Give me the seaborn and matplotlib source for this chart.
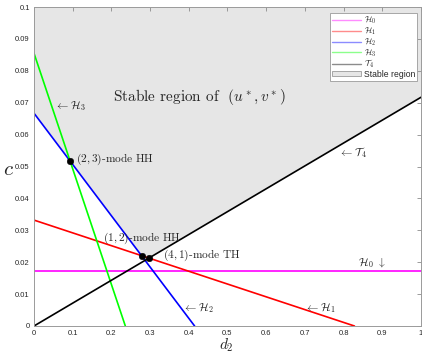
import numpy as np
import pandas as pd
import matplotlib
matplotlib.use("Agg")
import matplotlib.pyplot as plt
from matplotlib.lines import Line2D
from matplotlib.patches import Patch
import seaborn as sns

# Critical curves in the (d2, c) plane, given by their end points
h0_d, h0_c = [0.0, 1.0], [0.0173, 0.0173]
h1_d, h1_c = [0.0, 0.828], [0.0332, 0.0]
h2_d, h2_c = [0.0, 0.415], [0.0667, 0.0]
h3_d, h3_c = [0.0, 0.236], [0.0855, 0.0]
t4_d, t4_c = [0.0, 1.0], [0.0, 0.0717]

# Boundary of the stable region
stable_d = [0.0, 0.278, 0.297, 1.0, 1.0, 0.0]
stable_c = [0.0667, 0.0220, 0.0213, 0.0717, 0.1, 0.1]

# Codimension-two points
pts_d = [0.0933, 0.278, 0.297]
pts_c = [0.0517, 0.0220, 0.0213]

curve_names = [r"$\mathcal{H}_0$", r"$\mathcal{H}_1$", r"$\mathcal{H}_2$",
               r"$\mathcal{H}_3$", r"$\mathcal{T}_4$"]
curve_colors = ["#ff00ff", "#ff0000", "#0000ff", "#00ff00", "#000000"]

x_ticks = [0, 0.1, 0.2, 0.3, 0.4, 0.5, 0.6, 0.7, 0.8, 0.9, 1.0]
x_tick_labels = ["0", "0.1", "0.2", "0.3", "0.4", "0.5", "0.6", "0.7", "0.8", "0.9", "1"]
y_ticks = [0, 0.01, 0.02, 0.03, 0.04, 0.05, 0.06, 0.07, 0.08, 0.09, 0.1]
y_tick_labels = ["0", "0.01", "0.02", "0.03", "0.04", "0.05", "0.06", "0.07", "0.08", "0.09", "0.1"]

frames = []
for name, d, c in zip(curve_names, [h0_d, h1_d, h2_d, h3_d, t4_d],
                      [h0_c, h1_c, h2_c, h3_c, t4_c]):
    frames.append(pd.DataFrame({"d2": d, "c": c, "curve": name}))
curves = pd.concat(frames, ignore_index=True)

sns.set_style("white")
plt.rcParams["mathtext.fontset"] = "cm"
plt.rcParams["font.family"] = ["Liberation Sans", "DejaVu Sans"]
plt.rcParams["axes.unicode_minus"] = False

fig = plt.figure(figsize=(4.22, 3.54), dpi=100)
ax = fig.add_axes([34 / 422, 28 / 354, 387 / 422, 319 / 354])

ax.fill(stable_d, stable_c, color="#e6e6e6", lw=0, zorder=0)

sns.lineplot(data=curves, x="d2", y="c", hue="curve", hue_order=curve_names,
             palette=dict(zip(curve_names, curve_colors)), sort=False,
             estimator=None, units="curve", lw=1.2, legend=False, ax=ax, zorder=2)

sns.scatterplot(x=pts_d, y=pts_c, color="black", s=22, edgecolor="black",
                zorder=4, ax=ax)

ax.set_xlim(0, 1)
ax.set_ylim(0, 0.1)
ax.set_xticks(x_ticks)
ax.set_xticklabels(x_tick_labels)
ax.set_yticks(y_ticks)
ax.set_yticklabels(y_tick_labels)
ax.tick_params(direction="in", length=3, width=0.6, color="#8c8c8c",
               labelsize=5.5, labelcolor="#262626", top=True, right=True,
               pad=3)
for s in ax.spines.values():
    s.set_color("#9a9a9a")
    s.set_linewidth(0.7)

ax.set_xlabel(r"$d_2$", fontsize=11)
ax.xaxis.set_label_coords(0.496, -0.033)
ax.set_ylabel(r"$c$", fontsize=15, rotation=0, va="center", ha="center")
ax.yaxis.set_label_coords(-0.066, 0.49)

serif = "cmr10"
ax.text(0.204, 0.0717, r"Stable region of  $(u^*, v^*)$", fontsize=11,
        family=serif, ha="left", va="center")
ax.text(0.054, 0.0688, r"$\leftarrow \mathcal{H}_3$", fontsize=8.2,
        ha="left", va="center")
ax.text(0.1085, 0.0522, r"$(2,3)$-mode HH", fontsize=8.2, family=serif,
        ha="left", va="center")
ax.text(0.178, 0.0274, r"$(1,2)$-mode HH", fontsize=8.2, family=serif,
        ha="left", va="center")
ax.text(0.333, 0.0221, r"$(4,1)$-mode TH", fontsize=8.2, family=serif,
        ha="left", va="center")
ax.text(0.385, 0.0056, r"$\leftarrow \mathcal{H}_2$", fontsize=8.2,
        ha="left", va="center")
ax.text(0.700, 0.0056, r"$\leftarrow \mathcal{H}_1$", fontsize=8.2,
        ha="left", va="center")
ax.text(0.837, 0.0196, r"$\mathcal{H}_0\ \downarrow$", fontsize=8.2,
        ha="left", va="center")
ax.text(0.788, 0.0545, r"$\leftarrow \mathcal{T}_4$", fontsize=8.2,
        ha="left", va="center")

handles = [Line2D([], [], color=col, lw=1.0, alpha=0.45)
           for col in curve_colors]
handles.append(Patch(facecolor="#e6e6e6", edgecolor="#9a9a9a", lw=0.6))
labels = curve_names + ["Stable region"]
leg = ax.legend(handles, labels, loc="upper right",
                bbox_to_anchor=(0.99, 0.982), borderaxespad=0,
                fontsize=6.2, labelspacing=-0.08, handlelength=3.4,
                handleheight=0.5, handletextpad=0.3, borderpad=0.25,
                frameon=True, fancybox=False, framealpha=1)
leg.get_frame().set_edgecolor("#9a9a9a")
leg.get_frame().set_linewidth(0.6)

fig.savefig("out.png", dpi=100)
